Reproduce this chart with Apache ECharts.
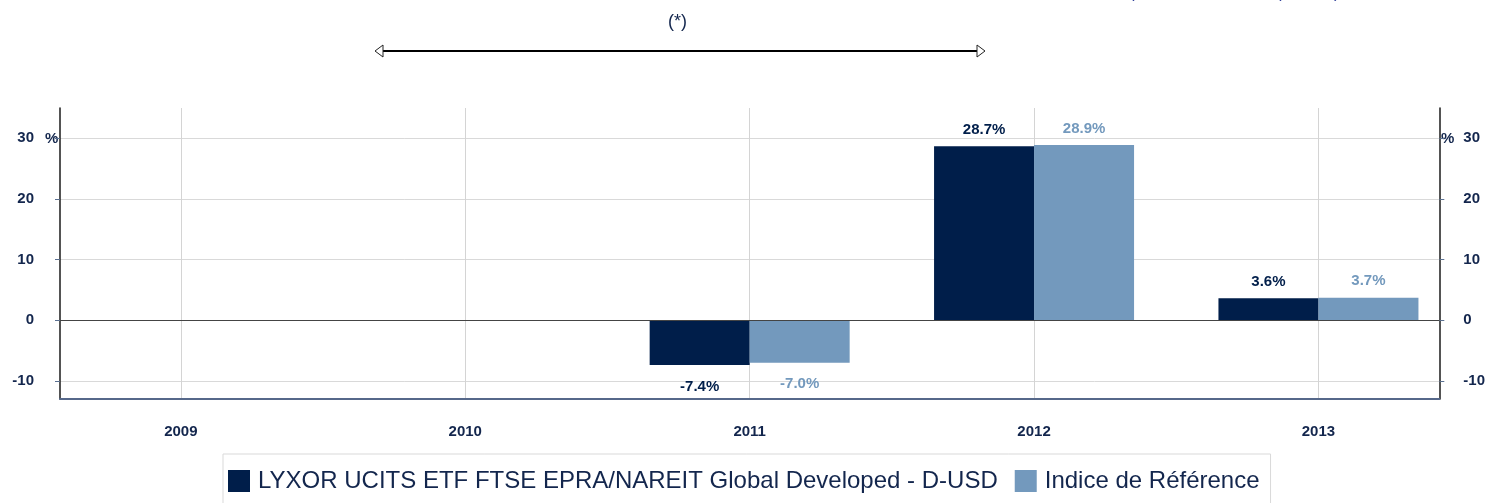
<!DOCTYPE html>
<html>
<head>
<meta charset="utf-8">
<script src="https://cdn.jsdelivr.net/npm/echarts@6/dist/echarts.min.js"></script>
<style>
  html, body { margin: 0; padding: 0; background: #fff; }
  #chart { width: 1488px; height: 503px; }
</style>
</head>
<body>
<div id="chart"></div>
<script>
var years = [2009, 2010, 2011, 2012, 2013];
var fundValues = [null, null, -7.4, 28.7, 3.6];
var indexValues = [null, null, -7.0, 28.9, 3.7];
var yTicks = [-10, 0, 10, 20, 30];
var fundName = 'LYXOR UCITS ETF FTSE EPRA/NAREIT Global Developed - D-USD';
var indexName = 'Indice de Référence';

var navy = '#001e4a';
var lightBlue = '#7399bd';
var textNavy = '#13264d';
var font = '"Liberation Sans", Arial, sans-serif';

var chart = echarts.init(document.getElementById('chart'));

// bar data as [year, value], label below the bar when negative
function toData(vals) {
    return years.map(function (y, i) {
        var v = vals[i];
        return {
            value: [y, v],
            label: { position: v < 0 ? 'bottom' : 'top', distance: v < 0 ? 14 : 9 }
        };
    });
}

function yAxisCommon(pos) {
    return {
        type: 'value',
        position: pos,
        min: -13,
        max: 35,
        axisLine: { show: true, onZero: false, lineStyle: { color: '#1a1a1a', width: 1.5 } },
        axisTick: { show: true, customValues: yTicks, length: 5, lineStyle: { color: '#5a7090' } },
        axisLabel: {
            customValues: yTicks,
            margin: pos === 'left' ? 26 : 24,
            color: textNavy,
            fontSize: 15,
            fontWeight: 'bold',
            fontFamily: font
        },
        splitLine: { show: pos === 'left', lineStyle: { color: '#d9d9d9', width: 1 } }
    };
}

var option = {
    backgroundColor: '#fff',
    animation: false,
    grid: { left: 60, right: 48, top: 108, bottom: 104 },
    legend: {
        left: 223,
        top: 454,
        padding: [15, 11, 15, 5],
        borderColor: '#d9d9d9',
        borderWidth: 1,
        itemWidth: 22,
        itemHeight: 22,
        itemGap: 17,
        icon: 'rect',
        textStyle: { fontSize: 24, color: textNavy, fontFamily: font, padding: [0, 0, 0, 3] },
        data: [fundName, indexName]
    },
    xAxis: {
        type: 'value',
        min: years[0] - 0.425,
        max: years[years.length - 1] + 0.425,
        axisLine: { show: true, onZero: false, lineStyle: { color: '#56688a', width: 2 } },
        axisTick: { show: false, customValues: years },
        axisLabel: {
            customValues: years,
            margin: 25,
            color: textNavy,
            fontSize: 15,
            fontWeight: 'bold',
            fontFamily: font,
            formatter: function (v) { return String(v); }
        },
        splitLine: { show: true, lineStyle: { color: '#d4d4d4', width: 1 } }
    },
    yAxis: [yAxisCommon('left'), yAxisCommon('right')],
    series: [{
        name: fundName,
        type: 'bar',
        barWidth: 100,
        barGap: '0%',
        itemStyle: { color: navy },
        label: {
            show: true,
            color: navy,
            fontSize: 15,
            fontWeight: 'bold',
            fontFamily: font,
            formatter: function (p) { return p.value[1].toFixed(1) + '%'; }
        },
        data: toData(fundValues),
        markLine: {
            silent: true,
            symbol: 'none',
            label: { show: false },
            lineStyle: { color: '#444', type: 'solid', width: 1.2 },
            data: [{ yAxis: 0 }]
        }
    }, {
        name: indexName,
        type: 'bar',
        barWidth: 100,
        barGap: '0%',
        itemStyle: { color: lightBlue },
        label: {
            show: true,
            color: lightBlue,
            fontSize: 15,
            fontWeight: 'bold',
            fontFamily: font,
            formatter: function (p) { return p.value[1].toFixed(1) + '%'; }
        },
        data: toData(indexValues)
    }],
    graphic: [
        { type: 'text', left: 668, top: 13, style: { text: '(*)', fontSize: 18, fill: textNavy, fontFamily: font } },
        { type: 'line', shape: { x1: 383, y1: 51, x2: 977, y2: 51 }, style: { stroke: '#000', lineWidth: 2 } },
        { type: 'polygon', shape: { points: [[375, 51], [383, 45], [383, 57]] }, style: { fill: '#fff', stroke: '#222', lineWidth: 1 } },
        { type: 'polygon', shape: { points: [[985, 51], [977, 45], [977, 57]] }, style: { fill: '#fff', stroke: '#222', lineWidth: 1 } },
        { type: 'text', left: 45, top: 131, style: { text: '%', fontSize: 15, fontWeight: 'bold', fill: textNavy, fontFamily: font } },
        { type: 'text', left: 1441, top: 131, style: { text: '%', fontSize: 15, fontWeight: 'bold', fill: textNavy, fontFamily: font } },
        { type: 'text', left: 1129, top: -15, style: { text: '(', fontSize: 17, fill: '#2f3f9a', fontFamily: font } },
        { type: 'text', left: 1276, top: -15, style: { text: '(', fontSize: 17, fill: '#2f3f9a', fontFamily: font } },
        { type: 'text', left: 1334, top: -15, style: { text: ')', fontSize: 17, fill: '#2f3f9a', fontFamily: font } }
    ]
};

chart.setOption(option);
</script>
</body>
</html>
